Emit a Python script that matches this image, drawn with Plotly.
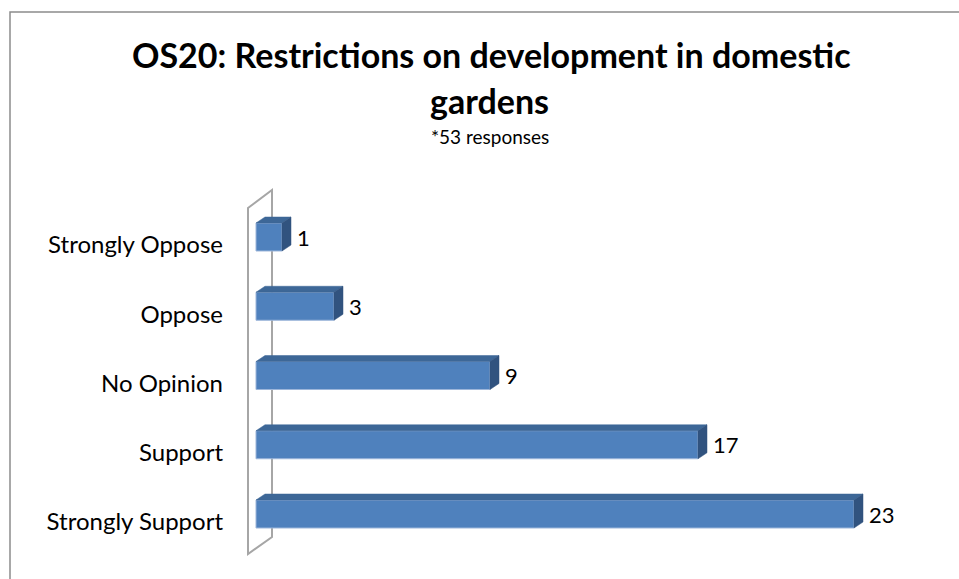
import plotly.graph_objects as go

# Survey responses, listed top to bottom
categories = ["Strongly Oppose", "Oppose", "No Opinion", "Support", "Strongly Support"]
counts = [1, 3, 9, 17, 23]
title_lines = ["OS20: Restrictions on development in domestic", "gardens"]
subtitle = "*53 responses"

W, H = 959, 579
ML, MR, MT, MB = 240, 19, 180, 19
plot_w = W - ML - MR
plot_h = H - MT - MB

FONT = "Lato"
FRONT = "#4F81BD"
TOP = "#3D6797"
SIDE = "#31537F"
EDGE = "#9DB6DA"

# axis scale: 26 px per response, 69.25 px between categories
x_range = [-16 / 26, plot_w / 26 - 16 / 26]
cat_step = 69.25
y_bottom = -(plot_h - (514 - MT)) / cat_step
y_range = [y_bottom, y_bottom + plot_h / cat_step]

n = len(categories)
pos = [n - 1 - i for i in range(n)]
bar_h = 28 / cat_step
dx = 9 / 26            # depth offset along value axis
dy = 6 / cat_step      # depth offset along category axis


def paper_x(p):
    return (p - ML) / plot_w


def paper_y(p):
    return (H - MB - p) / plot_h


fig = go.Figure()

# top and side faces of each 3-D bar
for v, y in zip(counts, pos):
    y0, y1 = y - bar_h / 2, y + bar_h / 2
    fig.add_trace(go.Scatter(
        x=[0, v, v + dx, dx, 0], y=[y1, y1, y1 + dy, y1 + dy, y1],
        fill="toself", fillcolor=TOP, mode="lines",
        line=dict(color=TOP, width=0.5), hoverinfo="skip", showlegend=False))
    fig.add_trace(go.Scatter(
        x=[v, v + dx, v + dx, v, v], y=[y0, y0 + dy, y1 + dy, y1, y0],
        fill="toself", fillcolor=SIDE, mode="lines",
        line=dict(color=SIDE, width=0.5), hoverinfo="skip", showlegend=False))

# front faces
fig.add_trace(go.Bar(
    x=counts, y=pos, orientation="h", width=bar_h,
    marker=dict(color=FRONT, line=dict(color=EDGE, width=1)),
    showlegend=False, hoverinfo="x"))

# value labels, set just past the side face of each bar
fig.add_trace(go.Scatter(
    x=[v + dx + 6 / 26 for v in counts], y=[p - 3 / cat_step for p in pos],
    mode="text", text=[str(v) for v in counts], textposition="middle right",
    textfont=dict(family=FONT, size=22, color="#000000"),
    hoverinfo="skip", showlegend=False, cliponaxis=False))

# thin back wall of the category axis
wx0, wx1 = -8 / 26, 16 / 26
wall = (f"M {wx0},{(514 - 208) / cat_step} L {wx1},{(514 - 190) / cat_step} "
        f"L {wx1},{(514 - 537) / cat_step} L {wx0},{(514 - 554) / cat_step} Z")
shapes = [
    dict(type="path", path=wall, xref="x", yref="y", layer="below",
         line=dict(color="#A6A6A6", width=2), fillcolor="rgba(0,0,0,0)"),
    dict(type="rect", xref="paper", yref="paper",
         x0=paper_x(10), x1=paper_x(975), y0=paper_y(595), y1=paper_y(12),
         line=dict(color="#8C8C8C", width=1.5), fillcolor="rgba(0,0,0,0)"),
]

annotations = [
    dict(text=f"<b>{title_lines[0]}</b>", x=paper_x(491), y=paper_y(54),
         xref="paper", yref="paper", xanchor="center", yanchor="middle",
         showarrow=False, font=dict(family=FONT, size=34, color="#000000")),
    dict(text=f"<b>{title_lines[1]}</b>", x=paper_x(489), y=paper_y(101),
         xref="paper", yref="paper", xanchor="center", yanchor="middle",
         showarrow=False, font=dict(family=FONT, size=34, color="#000000")),
    dict(text=subtitle, x=paper_x(490), y=paper_y(136),
         xref="paper", yref="paper", xanchor="center", yanchor="middle",
         showarrow=False, font=dict(family=FONT, size=19, color="#000000")),
]

fig.update_layout(
    width=W, height=H,
    margin=dict(l=ML, r=MR, t=MT, b=MB),
    paper_bgcolor="white", plot_bgcolor="white",
    shapes=shapes, annotations=annotations,
    xaxis=dict(range=x_range, showgrid=False, zeroline=False,
               showticklabels=False, showline=False, fixedrange=True),
    yaxis=dict(range=y_range, showgrid=False, zeroline=False, showline=False,
               tickmode="array", tickvals=[p - 8 / cat_step for p in pos],
               ticktext=categories, ticks="", ticklabelstandoff=16,
               tickfont=dict(family=FONT, size=24, color="#000000"),
               fixedrange=True),
)

fig.write_html("out.html")
